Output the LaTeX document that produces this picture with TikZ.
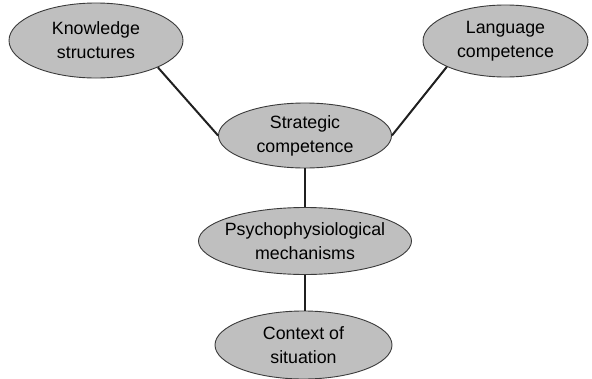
\documentclass[tikz,border=0pt]{standalone}
\usepackage{fontspec}
\setmainfont{Liberation Sans}
\usetikzlibrary{shapes.geometric}
\definecolor{bubblefill}{HTML}{BFBFBF}
\definecolor{bubbleline}{HTML}{3A3A3A}
\definecolor{linkdark}{HTML}{202020}

\begin{document}
\begin{tikzpicture}[x=1pt,y=-1pt,
    bubble/.style={ellipse, draw=bubbleline, line width=0.9pt, fill=bubblefill,
      inner xsep=-5pt, inner ysep=0pt, align=center,
      font=\fontsize{17.8}{24}\selectfont},
    link/.style={linkdark, line width=2pt}]
  \useasboundingbox (0,0) rectangle (592,378);
  % --- top row ---
  \node[bubble, minimum width=174pt, minimum height=75pt] (ks) at (96,40.5) {Knowledge\\structures};
  \node[bubble, minimum width=165pt, minimum height=72pt] (lc) at (505.5,41) {Language\\competence};
  % --- middle ---
  \node[bubble, minimum width=173pt, minimum height=65pt] (sc) at (305,135.5) {Strategic\\competence};
  \node[bubble, minimum width=213pt, minimum height=67pt] (pm) at (305,241) {Psychophysiological\\mechanisms};
  % --- bottom (cut by page edge) ---
  \node[bubble, minimum width=177pt, minimum height=68pt] (cs) at (303.5,345) {Context of\\situation};
  \draw[link] (ks.south east) -- (sc.west);
  \draw[link] (lc.south west) -- (sc.east);
  \draw[link] (sc.south) -- (pm.north);
  \draw[link] (pm.south -| sc.south) -- (cs.north -| sc.south);
\end{tikzpicture}
\end{document}
